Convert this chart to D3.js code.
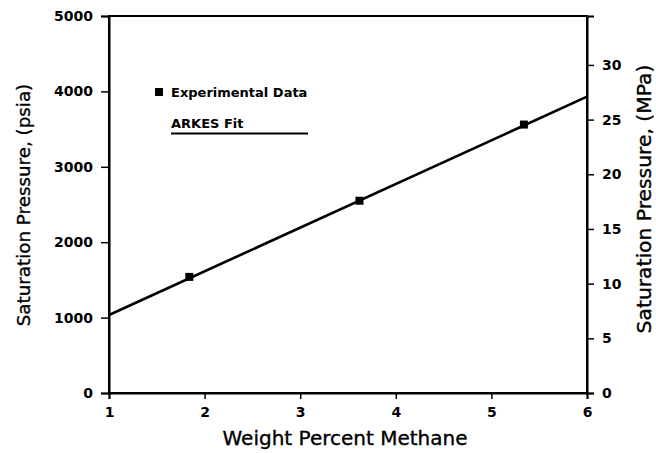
<!DOCTYPE html>
<html>
<head>
<meta charset="utf-8">
<script src="https://cdn.jsdelivr.net/npm/d3@7"></script>
<style>
  html, body { margin: 0; padding: 0; background: #fff; }
  svg { display: block; }
  .tick text { font-family: "DejaVu Sans", sans-serif; font-weight: bold; font-size: 14px; fill: #000; }
  .domain, .tick line { stroke: #000; }
</style>
</head>
<body>
<svg id="chart" width="656" height="453"></svg>
<script>
// Measured saturation pressures (psia) vs. methane content (wt %)
const expWeight = [1.84, 3.62, 5.34];
const expPsia = [1540, 2550, 3560];

// ARKES linear fit endpoints across the axis range
const fitWeight = [1, 6];
const fitPsia = [1035, 3930];

const xTicks = [1, 2, 3, 4, 5, 6];
const psiaTicks = [0, 1000, 2000, 3000, 4000, 5000];
const mpaTicks = [0, 5, 10, 15, 20, 25, 30];
const PSI_PER_MPA = 145.038;

const svg = d3.select("#chart");
const plot = { left: 109, right: 587, top: 16, bottom: 393 };

const x = d3.scaleLinear().domain([1, 6]).range([plot.left, plot.right]);
const y = d3.scaleLinear().domain([0, 5000]).range([plot.bottom, plot.top]);
const yMpa = d3.scaleLinear().domain([0, 5000 / PSI_PER_MPA]).range([plot.bottom, plot.top]);

// Frame around the plot area
svg.append("rect")
  .attr("x", plot.left).attr("y", plot.top)
  .attr("width", plot.right - plot.left).attr("height", plot.bottom - plot.top)
  .attr("fill", "none").attr("stroke", "#000").attr("stroke-width", 2);

// Left axis (psia)
const gL = svg.append("g").attr("transform", `translate(${plot.left},0)`)
  .call(d3.axisLeft(y).tickValues(psiaTicks).tickFormat(d3.format("d")).tickSize(8).tickPadding(8));
gL.selectAll(".domain").attr("stroke-width", 2);
gL.selectAll(".tick line").attr("stroke-width", 1.5);

// Right axis (MPa)
const gR = svg.append("g").attr("transform", `translate(${plot.right},0)`)
  .call(d3.axisRight(yMpa).tickValues(mpaTicks).tickFormat(d3.format("d")).tickSize(7).tickPadding(8));
gR.selectAll(".domain").attr("stroke-width", 2);
gR.selectAll(".tick line").attr("stroke-width", 1.5);

// Bottom axis
const gB = svg.append("g").attr("transform", `translate(0,${plot.bottom})`)
  .call(d3.axisBottom(x).tickValues(xTicks).tickFormat(d3.format("d")).tickSize(6).tickPadding(8));
gB.selectAll(".domain").attr("stroke-width", 2);
gB.selectAll(".tick line").attr("stroke-width", 1.5);

// Fit line
const line = d3.line().x(d => x(d[0])).y(d => y(d[1]));
svg.append("path")
  .datum(d3.zip(fitWeight, fitPsia))
  .attr("d", line)
  .attr("fill", "none").attr("stroke", "#000").attr("stroke-width", 2.6);

// Experimental points
const sq = 8;
svg.selectAll("rect.pt")
  .data(d3.zip(expWeight, expPsia))
  .join("rect")
  .attr("class", "pt")
  .attr("x", d => x(d[0]) - sq / 2)
  .attr("y", d => y(d[1]) - sq / 2)
  .attr("width", sq).attr("height", sq)
  .attr("fill", "#000");

// Legend
const legend = svg.append("g").attr("font-family", "DejaVu Sans, sans-serif").attr("font-weight", "bold").attr("font-size", 13);
legend.append("rect").attr("x", 155).attr("y", 88).attr("width", 8).attr("height", 8).attr("fill", "#000");
legend.append("text").attr("x", 171).attr("y", 97).text("Experimental Data");
legend.append("text").attr("x", 171).attr("y", 128).text("ARKES Fit");
legend.append("line").attr("x1", 171).attr("x2", 308).attr("y1", 133.5).attr("y2", 133.5)
  .attr("stroke", "#000").attr("stroke-width", 2);

// Axis titles
const titleFont = "DejaVu Sans, sans-serif";
const titleStyle = sel => sel
  .attr("text-anchor", "middle")
  .attr("font-family", titleFont)
  .attr("fill", "#000").attr("stroke", "#000").attr("stroke-width", 0.35);

svg.append("text")
  .attr("transform", `translate(30,205) rotate(-90)`)
  .call(titleStyle).attr("font-size", 18.3)
  .text("Saturation Pressure, (psia)");

svg.append("text")
  .attr("transform", `translate(651,199) rotate(-90)`)
  .call(titleStyle).attr("font-size", 20.3)
  .text("Saturation Pressure, (MPa)");

svg.append("text")
  .attr("x", 345).attr("y", 445)
  .call(titleStyle).attr("font-size", 20)
  .text("Weight Percent Methane");
</script>
</body>
</html>
